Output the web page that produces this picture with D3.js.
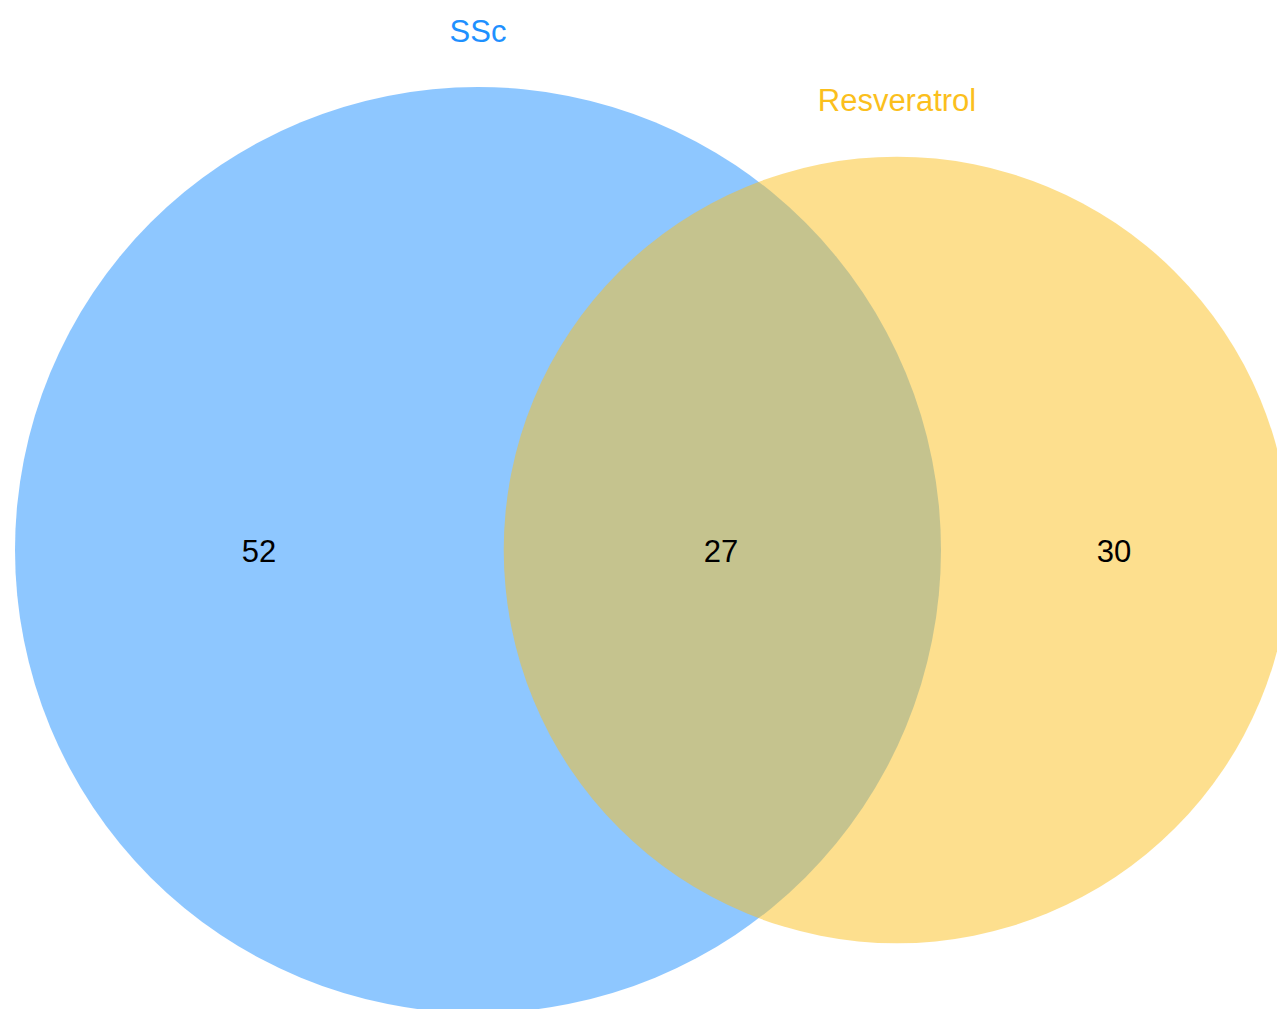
<!doctype html>
<html>
<head>
<meta charset="utf-8">
<script src="https://d3js.org/d3.v7.min.js"></script>
<style>
  body { margin: 0; background: #fff; }
  svg { display: block; font-family: "Liberation Sans", Arial, sans-serif; }
</style>
</head>
<body>
<svg id="venn"></svg>
<script>
// set names and region counts
var setNames = ['SSc', 'Resveratrol'];
var setColors = ['#1e90ff', '#fbbf1d'];
var onlyCounts = [52, 30];
var sharedCount = 27;

var w = 1277, h = 1009;
var svg = d3.select('#venn').attr('width', w).attr('height', h);

var totals = [onlyCounts[0] + sharedCount, onlyCounts[1] + sharedCount];
// area-proportional radius
var rScale = d3.scaleSqrt().domain([0, totals[0]]).range([0, 463]);
var cy = 550;
var cx = [478, 897];

var sets = setNames.map(function(n, i) {
  return {name: n, color: setColors[i], r: rScale(totals[i]), cx: cx[i]};
});

svg.selectAll('circle.set')
  .data(sets).enter()
  .append('circle').attr('class', 'set')
  .attr('cx', function(d) { return d.cx; })
  .attr('cy', cy)
  .attr('r', function(d) { return d.r; })
  .style('fill', function(d) { return d.color; })
  .style('fill-opacity', 0.5);

// set titles
var titleY = [34, 103];
svg.selectAll('text.title')
  .data(sets).enter()
  .append('text').attr('class', 'title')
  .attr('x', function(d) { return d.cx; })
  .attr('y', function(d, i) { return titleY[i]; })
  .attr('text-anchor', 'middle')
  .attr('dominant-baseline', 'middle')
  .style('font-size', '31px')
  .style('fill', function(d) { return d.color; })
  .text(function(d) { return d.name; });

// region counts
var counts = [
  {v: onlyCounts[0], x: 259},
  {v: sharedCount, x: 721},
  {v: onlyCounts[1], x: 1114}
];
svg.selectAll('text.count')
  .data(counts).enter()
  .append('text').attr('class', 'count')
  .attr('x', function(d) { return d.x; })
  .attr('y', 554)
  .attr('text-anchor', 'middle')
  .attr('dominant-baseline', 'middle')
  .style('font-size', '31px')
  .style('fill', '#000')
  .text(function(d) { return d.v; });
</script>
</body>
</html>
